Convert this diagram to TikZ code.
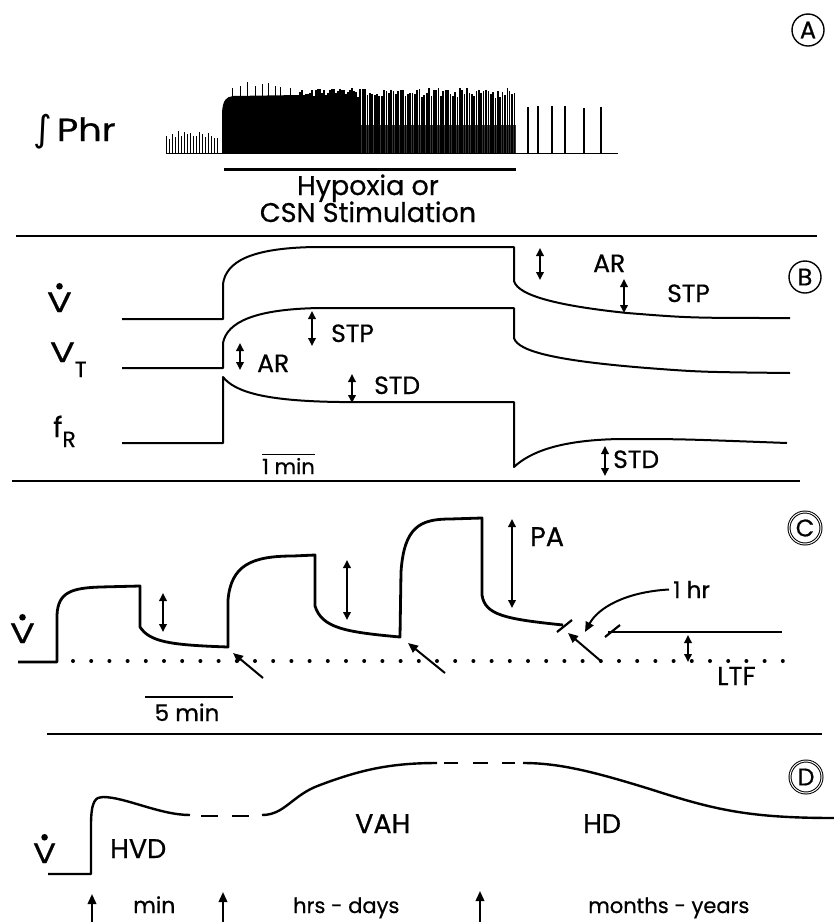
\documentclass[tikz,border=0pt]{standalone}
\usepackage{fontspec}
\setmainfont{Poppins}[FakeBold=0.6]
\newfontfamily\symfont{DejaVu Sans}
\usetikzlibrary{arrows.meta}
\begin{document}
\begin{tikzpicture}[x=1pt,y=-1pt,
  trace/.style={line width=2pt, line join=round},
  ctrace/.style={line width=2.8pt, line join=round},
  dtrace/.style={line width=2.4pt, line join=round},
  dbl/.style={line width=1.8pt, {Triangle[length=8pt,width=7.5pt]}-{Triangle[length=8pt,width=7.5pt]}},
  sarr/.style={line width=2pt, -{Triangle[length=10pt,width=8.5pt]}},
  lab/.style={font=\fontsize{28}{30}\selectfont, inner sep=0pt, anchor=base west},
  captxt/.style={font=\fontsize{27}{29}\selectfont, inner sep=0pt, anchor=base},
  mid/.style={font=\fontsize{25}{27}\selectfont, inner sep=0pt, anchor=base west},
  sml/.style={font=\fontsize{21}{23}\selectfont, inner sep=0pt, anchor=base west},
  bot/.style={font=\fontsize{22}{24}\selectfont, inner sep=0pt, anchor=base west},
  panel/.style={circle, draw, line width=1.4pt, minimum size=32pt, inner sep=0pt, font=\fontsize{24}{26}\selectfont},
  sep/.style={line width=1.8pt}]
\useasboundingbox (0,0) rectangle (834,922);
\pgfmathsetseed{11}
% ---------------- Panel A ----------------
\node[panel] (pA) at (808,30) {A};
\node[lab, font=\fontsize{32}{34}\selectfont] (phr) at (33,141) {{\symfont\fontsize{36}{36}\selectfont ∫}\hspace{5pt}\scalebox{1.15}[1]{Phr}};
\draw[line width=1pt] (166,153) -- (618,153);
\foreach \i in {0,...,17} {
  \pgfmathsetmacro{\xx}{166+3*\i}
  \pgfmathsetmacro{\ytop}{131+8*rnd}
  \draw[line width=1pt] (\xx,153) -- (\xx,\ytop);
}
\fill[black!80] (300,153) rectangle (516,125);
\fill (222,153) -- (222,112) .. controls (223,100) and (226,97) .. (233,96) -- (300,95) -- (300,153) -- cycle;
\foreach \xx/\ytop in {232/88, 240/86, 247/82, 255/86, 262/84, 268/83, 275/86, 280/87, 290/88} {
  \draw[line width=1pt] (\xx,100) -- (\xx,\ytop);
}
\foreach \i in {0,...,29} {
  \pgfmathsetmacro{\xx}{298+2.0*\i}
  \pgfmathsetmacro{\ytop}{88+9*rnd}
  \draw[line width=1.6pt] (\xx,153) -- (\xx,\ytop);
}
\foreach \i in {0,...,66} {
  \pgfmathsetmacro{\xx}{358+2.37*\i}
  \pgfmathsetmacro{\ytop}{88+10*rnd}
  \pgfmathsetmacro{\lw}{1.9-0.006*\i}
  \draw[line width=\lw pt] (\xx,153) -- (\xx,\ytop);
}
\foreach \xx/\ytop in {528/107, 538/106, 552/106, 565/106, 584/108, 601/107} {
  \draw[line width=1.1pt] (\xx,153) -- (\xx,\ytop);
}
\draw[line width=3pt] (224,169) -- (516,169);
\node[captxt] (hyp) at (368,195) {Hypoxia or};
\node[captxt] (csn) at (368,222) {CSN Stimulation};
\draw[sep] (16,236) -- (817,236);
% ---------------- Panel B ----------------
\node[panel] (pB) at (805,277) {B};
\node[lab] (vb) at (47,312) {\scalebox{1.3}[1]{V}};
\fill ([yshift=6pt]vb.north) circle (3.3pt);
\node[lab] (vt) at (50,362) {\scalebox{1.3}[1]{V}\raisebox{-15pt}{\fontsize{22}{22}\selectfont T}};
\node[lab] (fr) at (53,437) {f\raisebox{-10pt}{\fontsize{22}{22}\selectfont R}};
\draw[trace] (122,319) -- (223,319) -- (223,284) .. controls (226,262) and (250,248) .. (315,247)
  -- (514,247) -- (514,281) .. controls (518,296) and (560,306) .. (627,313) .. controls (690,318) .. (790,318);
\draw[trace] (122,368) -- (223,368) -- (223,343) .. controls (227,322) and (255,309) .. (320,308)
  -- (514,308) -- (514,338) .. controls (518,352) and (560,361) .. (647,368) .. controls (700,372) .. (790,373);
\draw[trace] (122,443) -- (223,443) -- (223,377) .. controls (235,392) and (265,401) .. (340,402)
  -- (514,402) -- (514,467) .. controls (530,452) and (560,440) .. (620,439) .. controls (680,439) .. (787,443);
\draw[dbl] (540,248) -- (540,280);
\node[mid] (arB) at (593,272) {AR};
\draw[dbl] (624,279) -- (624,313);
\node[mid] (stpB) at (667,302) {STP};
\draw[dbl] (312,311) -- (312,346);
\node[mid] (stpT) at (331,342) {STP};
\draw[dbl] (240,343) -- (240,370);
\node[mid] (arT) at (257,372) {AR};
\draw[dbl] (352,374) -- (352,403);
\node[mid] (stdF) at (374,394) {STD};
\draw[dbl] (605,446) -- (605,476);
\node[mid] (stdB) at (613,468) {STD};
\node[sml] (onemin) at (262,474) {1 min};
\draw[line width=1.3pt] ([yshift=3pt]onemin.north west) -- ([yshift=3pt]onemin.north east);
\draw[sep] (12,481) -- (800,481);
% ---------------- Panel C ----------------
\node[panel, double, double distance=1pt, line width=1pt] (pC) at (805,528) {C};
\node[lab] (vc) at (10,643) {\scalebox{1.3}[1]{V}};
\fill ([yshift=6pt]vc.north) circle (3.3pt);
\foreach \k in {0,...,39} {
  \fill (73+18.2*\k,661) circle (2pt);
}
\draw[ctrace] (18,662) -- (57,662) -- (57,615) .. controls (58,592) and (72,588) .. (100,587) -- (140,586)
  -- (140,627) .. controls (150,642) and (170,645) .. (228,647)
  -- (228,600) .. controls (231,565) and (252,556) .. (293,556) -- (315,555)
  -- (315,606) .. controls (322,628) and (345,632) .. (400,637)
  -- (401,572) .. controls (404,527) and (420,519) .. (450,519) -- (482,518)
  -- (482,595) .. controls (485,615) and (505,619) .. (563,625);
\draw[ctrace] (608,632) -- (782,632);
\draw[line width=2.2pt] (557,632) -- (572,620);
\draw[line width=2.2pt] (605,637) -- (620,625);
\draw[dbl] (163,593) -- (163,632);
\draw[dbl] (347,560) -- (347,620);
\draw[dbl] (512,519) -- (512,608);
\draw[dbl] (688,635) -- (688,662);
\coordinate (a1s) at (263,678); \coordinate (a1e) at (233,653);
\coordinate (a2s) at (445,673); \coordinate (a2e) at (408,643);
\coordinate (a3s) at (602,662); \coordinate (a3e) at (568,633);
\draw[sarr] (a1s) -- (a1e);
\draw[sarr] (a2s) -- (a2e);
\draw[sarr] (a3s) -- (a3e);
\node[mid, font=\fontsize{27}{29}\selectfont] (pa) at (530,546) {PA};
\node[sml, font=\fontsize{23}{25}\selectfont] (hr) at (673,598) {1 hr};
\draw[sarr] ([xshift=-4pt]hr.west) .. controls (625,592) and (598,608) .. (585,632);
\node[mid, font=\fontsize{26}{28}\selectfont] (ltf) at (717,685) {LTF};
\draw[ctrace] (145,697) -- (233,697);
\node[sml, font=\fontsize{23}{25}\selectfont, anchor=base] (fivemin) at (187,721) {5 min};
\draw[sep] (47,734) -- (822,734);
% ---------------- Panel D ----------------
\node[panel, double, double distance=1pt, line width=1pt] (pD) at (806,777) {D};
\node[lab] (vd) at (33,863) {\scalebox{1.2}[1]{V}};
\fill ([yshift=6pt]vd.north) circle (3.3pt);
\draw[dtrace] (48,874) -- (91,874) -- (91,825) .. controls (91,800) and (96,797) .. (103,797)
  .. controls (125,797) and (160,815) .. (190,815);
\draw[dtrace] (201,816) -- (218,816);
\draw[dtrace] (232,816) -- (249,816);
\draw[dtrace] (262,815) .. controls (285,815) and (292,795) .. (320,785)
  .. controls (360,770) and (390,763) .. (437,763);
\draw[dtrace] (444,763) -- (458,763);
\draw[dtrace] (473,763) -- (488,763);
\draw[dtrace] (502,763) -- (515,763);
\draw[dtrace] (523,763) .. controls (560,763) and (595,772) .. (653,790)
  .. controls (715,810) and (750,818) .. (834,818);
\node[mid, font=\fontsize{27}{29}\selectfont] (hvd) at (110,858) {HVD};
\node[mid, font=\fontsize{27}{29}\selectfont] (vah) at (355,833) {VAH};
\node[mid, font=\fontsize{27}{29}\selectfont] (hd) at (583,833) {HD};
\coordinate (b1) at (92,922); \coordinate (t1) at (92,894);
\coordinate (b2) at (223,922); \coordinate (t2) at (223,892);
\coordinate (b3) at (480,922); \coordinate (t3) at (480,891);
\draw[sarr] (b1) -- (t1);
\draw[sarr] (b2) -- (t2);
\draw[sarr] (b3) -- (t3);
\node[bot] (tmin) at (133,913) {min};
\node[bot, font=\fontsize{21}{23}\selectfont] (thrs) at (293,913) {hrs - days};
\node[bot, font=\fontsize{21}{23}\selectfont] (tmon) at (588,913) {months - years};
\end{tikzpicture}
\end{document}
